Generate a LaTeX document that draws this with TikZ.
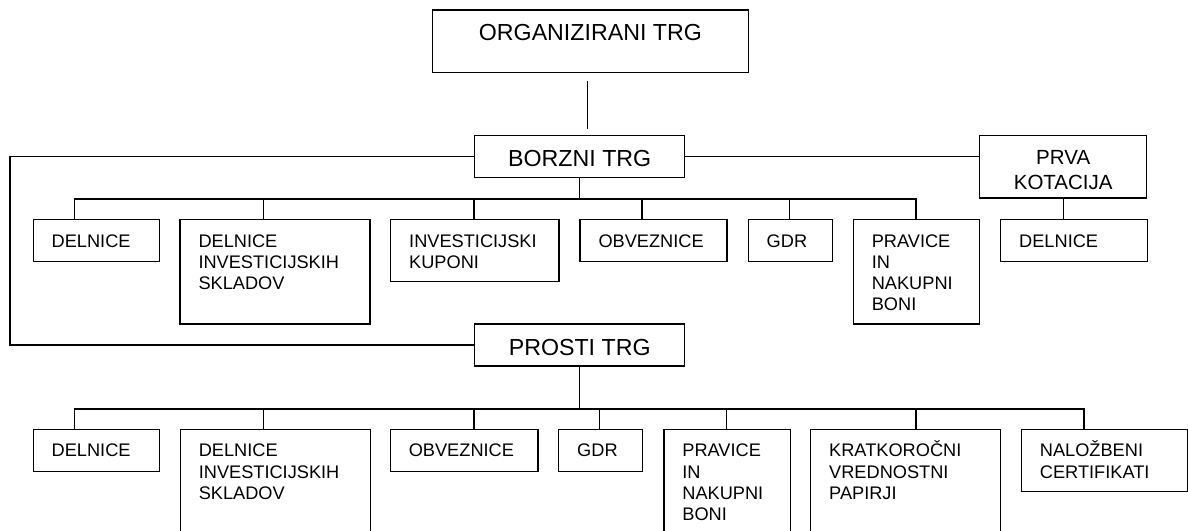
\documentclass[tikz,border=0pt]{standalone}
\usepackage{fontspec}
\setmainfont{Liberation Sans}
\begin{document}
\begin{tikzpicture}[x=1pt,y=-1pt,line width=1.4pt,
  leaf/.style 2 args={draw,anchor=north west,align=left,inner xsep=18.5pt,inner ysep=0pt,
    text height=27.4pt,text width=#1,text depth=#2,font=\fontsize{18.2}{21.2}\selectfont},
  head/.style={draw,anchor=north west,align=center,inner sep=0pt,font=\fontsize{23.2}{27}\selectfont}]
\useasboundingbox (0,0) rectangle (1188,530);
\clip (0,0) rectangle (1188,530);
% top of the tree
\node[head,minimum width=316pt,text height=30.7pt,text depth=31.7pt] (org) at (431.7,9.3) {ORGANIZIRANI TRG};
\node[head,minimum width=210pt,text height=30.7pt,text depth=11pt] (borzni) at (474,135) {BORZNI TRG};
\node[head,minimum width=210pt,text height=31.5pt,text depth=10.5pt] (prosti) at (474,323.3) {PROSTI TRG};
\node[head,text width=167pt,text height=29pt,text depth=33.3pt,font=\fontsize{20.5}{25}\selectfont] (prva) at (979,135) {PRVA\\KOTACIJA};
% borzni trg
\node[leaf={89.2pt}{14.6pt}] (b1) at (32.5,219) {DELNICE};
\node[leaf={153pt}{76.9pt}] (b2) at (179.3,219) {DELNICE\\INVESTICIJSKIH\\SKLADOV};
\node[leaf={131.3pt}{34.6pt}] (b3) at (390,219) {INVESTICIJSKI\\KUPONI};
\node[leaf={109.9pt}{14.6pt}] (b4) at (579.3,219) {OBVEZNICE};
\node[leaf={47pt}{14.6pt}] (b5) at (747.5,219) {GDR};
\node[leaf={89pt}{76.9pt}] (b6) at (852.6,219) {PRAVICE\\IN\\NAKUPNI\\BONI};
\node[leaf={109.5pt}{14.6pt}] (p1) at (1000,219) {DELNICE};
% prosti trg
\node[leaf={89.2pt}{14.6pt}] (c1) at (32.5,428.7) {DELNICE};
\node[leaf={153pt}{88.9pt}] (c2) at (179.6,428.7) {DELNICE\\INVESTICIJSKIH\\SKLADOV};
\node[leaf={110.7pt}{14.6pt}] (c3) at (389.6,428.7) {OBVEZNICE};
\node[leaf={47pt}{14.6pt}] (c4) at (558,428.7) {GDR};
\node[leaf={89.4pt}{88.9pt}] (c5) at (663.2,428.7) {PRAVICE\\IN\\NAKUPNI\\BONI};
\node[leaf={153pt}{88.9pt}] (c6) at (810,428.7) {KRATKOROČNI\\VREDNOSTNI\\PAPIRJI};
\node[leaf={128.8pt}{34.9pt}] (c7) at (1020.7,428.7) {NALOŽBENI\\CERTIFIKATI};
% connectors
\draw[shorten <=8.3pt,shorten >=6pt] ([xshift=-3pt]org.south) -- ([xshift=-3pt]org.south |- borzni.north);
\coordinate (lft) at (10,250);
\draw (borzni.west) -| (lft) |- (prosti.west);
\draw (borzni.east) -- (borzni.east -| prva.west);
\path (borzni.south) ++(0,20.8) coordinate (bb);
\draw (borzni.south) -- (bb);
\foreach \n/\dx in {b1/42.2,b2/84,b3/84,b4/62.7,b5/42,b6/63.4}
  \draw ([xshift=\dx pt]\n.north west) |- (bb);
\draw (prva.south) -- (prva.south |- p1.north);
\path (prosti.south) ++(0,42.4) coordinate (pb);
\draw (prosti.south) -- (pb);
\foreach \n/\dx in {c1/42.1,c2/83.7,c3/84.2,c4/41.4,c5/63,c6/106,c7/63.3}
  \draw ([xshift=\dx pt]\n.north west) |- (pb);
\end{tikzpicture}
\end{document}
